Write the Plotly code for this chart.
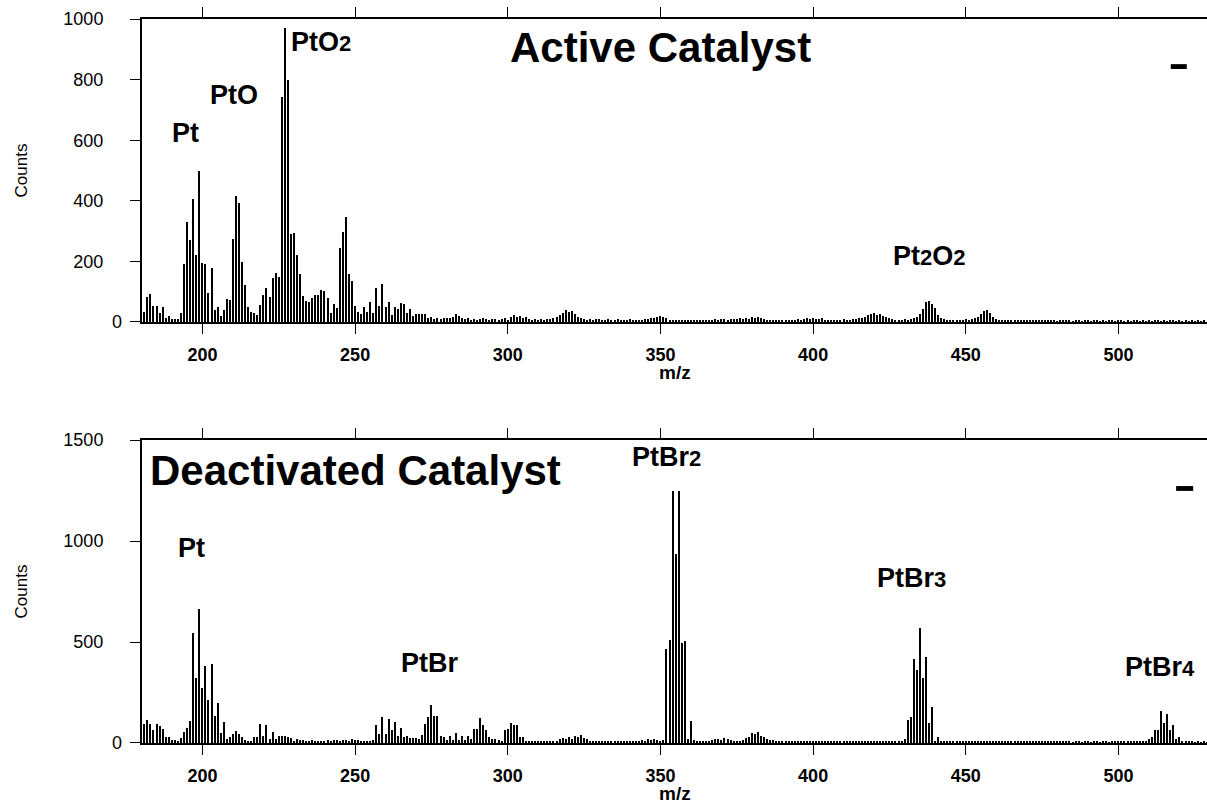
import plotly.graph_objects as go

# ---------------- Active catalyst spectrum (counts per integer m/z) ----------------
active_start_a = 180
active_counts_a = [
    12, 33, 83, 91, 52, 52, 31, 48, 14, 20,          # 180-189
    9, 9, 9, 29, 191, 329, 271, 405, 221, 498,       # 190-199
    196, 190, 97, 177, 40, 51, 20, 40, 75, 73,       # 200-209
    273, 416, 392, 199, 122, 51, 34, 29, 23, 56,     # 210-219
    89, 111, 84, 144, 161, 150, 744, 969, 799, 290,  # 220-229
    295, 220, 157, 87, 69, 66, 80, 88, 88, 106,      # 230-239
    103, 79, 30, 58, 47, 243, 296, 348, 157, 135,    # 240-249
    52, 33, 25, 50, 33, 67, 31, 113, 53, 124,        # 250-259
    51, 66, 23, 50, 44, 64, 61, 30, 42, 20,          # 260-269
    25, 27, 25, 25, 12, 17, 9, 12, 9, 14,            # 270-279
    12, 12, 18, 27, 20,                              # 280-284
]
active_start_b = 285
active_counts_b = [
    14, 10, 12, 8, 11, 7, 10, 12, 9, 8,              # 285-294
    11, 9, 7, 10, 12, 8, 18, 22, 15, 20,             # 295-304
    12, 16, 9, 8, 10, 7, 9, 8, 11, 10,               # 305-314
    12, 15, 22, 30, 38, 33, 36, 25, 18, 12,          # 315-324
    9, 8, 10, 7, 9, 11, 8, 6, 9, 7,                  # 325-334
    8, 10, 7, 6, 8, 9, 7, 6, 8, 7,                   # 335-344
    9, 10, 12, 14, 18, 20, 16, 12, 8, 6,             # 345-354
    7, 5, 6, 8, 6, 5, 7, 6, 5, 7,                    # 355-364
    6, 8, 7, 9, 8, 10, 9, 8, 11, 10,                 # 365-374
    9, 12, 10, 13, 11, 15, 14, 16, 12, 10,           # 375-384
    8, 7, 6, 8, 6, 5, 7, 6, 8, 7,                    # 385-394
    9, 8, 10, 12, 11, 13, 10, 9, 12, 8,              # 395-404
    7, 6, 8, 7, 6, 9, 8, 7, 9, 10,                   # 405-414
    12, 14, 18, 22, 26, 30, 24, 28, 20, 18,          # 415-424
    14, 10, 8, 6, 7, 9, 8, 10, 12, 15,               # 425-434
    25, 42, 65, 68, 60, 45, 22, 14, 10, 8,           # 435-444
    7, 6, 8, 7, 6, 9, 8, 10, 12, 18,                 # 445-454
    26, 35, 40, 30, 18, 10, 7, 6, 5, 6,              # 455-464
    5, 4, 6, 5, 4, 5, 6, 4, 5, 4,                    # 465-474
    5, 6, 4, 5, 4, 3, 5, 4, 6, 4,                    # 475-484
    3, 5, 4, 3, 5, 4, 3, 4, 5, 3,                    # 485-494
    4, 3, 5, 4, 3, 4, 5, 3, 4, 3,                    # 495-504
    4, 5, 3, 4, 3, 4, 3, 5, 4, 3,                    # 505-514
    4, 3, 4, 5, 3, 4, 3, 4, 3, 4,                    # 515-524
    3, 4, 3, 4,                                      # 525-528
]

# ---------------- Deactivated catalyst spectrum ----------------
deact_start_a = 180
deact_counts_a = [
    60, 92, 115, 95, 62, 92, 82, 67, 32, 32,         # 180-189
    17, 17, 12, 26, 54, 74, 108, 545, 320, 663,      # 190-199
    270, 381, 214, 393, 134, 199, 51, 106, 19, 29,   # 200-209
    45, 57, 45, 32, 17, 12, 12, 32, 29, 95,          # 210-219
    37, 88, 21, 54, 21, 37, 37, 37, 29, 26,          # 220-229
    12, 21, 14, 16, 12, 10, 13, 11, 9, 12,           # 230-239
    10, 14, 12, 15, 13, 11, 16, 14, 12, 18,          # 240-249
    15, 13, 11, 9, 12, 10, 15, 87, 45, 131,          # 250-259
    45, 118, 62, 103, 37, 75, 29, 37, 26, 24,        # 260-269
    24, 21, 40, 92, 128, 189, 136, 134, 37, 29,      # 270-279
    15, 37, 15, 49, 15, 37, 15, 37, 20, 70,          # 280-289
    70, 123, 87, 62, 29, 21, 21, 17, 12, 62,         # 290-299
    70, 100, 87, 87, 29, 32, 12, 10, 9, 11,          # 300-309
    8, 10, 9, 12, 10, 8, 11, 18, 25, 20,             # 310-319
    30, 22, 35, 28, 40, 24, 18, 12, 9, 8,            # 320-329
    10, 7, 9, 8, 6, 8, 7, 9, 6, 8,                   # 330-339
    7, 9, 8, 10, 14, 12, 18, 15, 20, 16,             # 340-349
    12, 14,                                          # 350-351
]
deact_start_b = 352
deact_counts_b = [
    467, 508, 1247, 938, 1247, 495, 503, 20, 107,    # 352-360  PtBr2
    14, 8, 7, 9, 8, 10, 14, 18, 22, 16,              # 361-370
    24, 20, 15, 10, 8, 12, 15, 25, 30, 50,           # 371-380
    45, 55, 35, 30, 20, 15, 15, 10, 8, 7,            # 381-390
    6, 8, 7, 6, 9, 7, 6, 8, 7, 5,                    # 391-400
    6, 7, 5, 6, 8, 7, 6, 5, 7, 6,                    # 401-410
    5, 6, 7, 5, 6, 5, 7, 6, 5, 6,                    # 411-420
    7, 5, 6, 8, 6, 5, 7, 9, 12, 20,                  # 421-430
    115, 128, 414, 360, 569, 320, 426, 100, 178, 12, # 431-440  PtBr3
    29, 8, 10, 7, 6, 8, 9, 7, 6, 5,                  # 441-450
    7, 6, 5, 6, 8, 6, 7, 10, 9, 7,                   # 451-460
    6, 5, 7, 6, 5, 6, 5, 7, 6, 5,                    # 461-470
    6, 5, 6, 7, 5, 6, 7, 8, 9, 8,                    # 471-480
    6, 5, 6, 5, 4, 6, 5, 4, 6, 5,                    # 481-490
    4, 6, 5, 4, 5, 6, 4, 5, 7, 6,                    # 491-500
    5, 6, 7, 5, 6, 5, 8, 7, 9, 21,                   # 501-510
    29, 65, 65, 156, 100, 145, 65, 90, 21, 29,       # 511-520  PtBr4
    8, 6, 5, 6, 4, 5, 4, 5, 4,                       # 521-529
]

# Axis ticks
x_ticks = [200, 250, 300, 350, 400, 450, 500]
active_y_ticks = [0, 200, 400, 600, 800, 1000]
deact_y_ticks = [0, 500, 1000, 1500]


def expand(start, counts):
    return [start + i for i in range(len(counts))], counts


a_mz1, a_c1 = expand(active_start_a, active_counts_a)
a_mz2, a_c2 = expand(active_start_b, active_counts_b)
d_mz1, d_c1 = expand(deact_start_a, deact_counts_a)
d_mz2, d_c2 = expand(deact_start_b, deact_counts_b)

active_mz = a_mz1 + a_mz2
active_counts = a_c1 + a_c2
deact_mz = d_mz1 + d_mz2
deact_counts = d_c1 + d_c2

FONT = "Arial, Liberation Sans, Helvetica, sans-serif"
X_RANGE = [180.2, 529.0]
STICK = 0.4

fig = go.Figure()
fig.add_trace(go.Bar(x=active_mz, y=active_counts, width=STICK,
                     marker=dict(color="black", line=dict(width=0)),
                     xaxis="x", yaxis="y", showlegend=False))
fig.add_trace(go.Bar(x=deact_mz, y=deact_counts, width=STICK,
                     marker=dict(color="black", line=dict(width=0)),
                     xaxis="x2", yaxis="y2", showlegend=False))

top_dom = [0.5815, 1.0]
bot_dom = [0.0, 0.4185]

xcommon = dict(range=X_RANGE, showline=True, linecolor="black", linewidth=2,
               mirror="ticks", ticks="outside", ticklen=10, tickwidth=1,
               tickcolor="black", tickvals=x_ticks, showgrid=False, zeroline=False,
               tickfont=dict(family=FONT, size=18, color="black", weight="bold"),
               ticklabelstandoff=5)
ycommon = dict(showline=True, linecolor="black", linewidth=2, mirror=False,
               ticks="outside", ticklen=10, tickwidth=1, tickcolor="black",
               showgrid=False, zeroline=False,
               tickfont=dict(family=FONT, size=18, color="black"),
               ticklabelstandoff=23)


def y_ticktext(vals):
    # the zero label is placed separately, closer to the axis
    return [("" if v == 0 else str(v)) for v in vals]


fig.update_layout(
    width=1207, height=807,
    margin=dict(l=142, r=0, t=19, b=64),
    paper_bgcolor="white", plot_bgcolor="white",
    bargap=0,
    xaxis=dict(domain=[0, 1], anchor="y", **xcommon),
    yaxis=dict(domain=top_dom, anchor="x", range=[0, 1000],
               tickvals=active_y_ticks, ticktext=y_ticktext(active_y_ticks), **ycommon),
    xaxis2=dict(domain=[0, 1], anchor="y2", **xcommon),
    yaxis2=dict(domain=bot_dom, anchor="x2", range=[0, 1500],
                tickvals=deact_y_ticks, ticktext=y_ticktext(deact_y_ticks), **ycommon),
)

annotations = []


def label(text, x, y, xr, yr, size=27, xanchor="center"):
    annotations.append(dict(text=text, x=x, y=y, xref=xr, yref=yr,
                            showarrow=False, xanchor=xanchor, yanchor="middle",
                            font=dict(family=FONT, size=size, color="black", weight="bold")))


def idx(d):
    # index digit in a formula, drawn slightly smaller than the element symbols
    return f'<span style="font-size:22px">{d}</span>'


# Panel titles
label("Active Catalyst", 350, 905, "x", "y", size=42)
label("Deactivated Catalyst", 182, 1351, "x2", "y2", size=42, xanchor="left")

# Peak assignments, active catalyst
label("Pt", 194.6, 624, "x", "y")
label("PtO", 210.3, 749, "x", "y")
label("PtO" + idx(2), 228.3, 924, "x", "y", xanchor="left")
label("Pt" + idx(2) + "O" + idx(2), 438, 218, "x", "y")

# Peak assignments, deactivated catalyst
label("Pt", 196.5, 965, "x2", "y2")
label("PtBr", 274.2, 394, "x2", "y2")
label("PtBr" + idx(2), 352, 1415, "x2", "y2")
label("PtBr" + idx(3), 432.3, 815, "x2", "y2")
label("PtBr" + idx(4), 513.5, 375, "x2", "y2")

# Axis titles and zero labels
for xr, yr in (("x", "y"), ("x2", "y2")):
    annotations.append(dict(text="m/z", x=0.5, y=-0.168, xref=f"{xr} domain",
                            yref=f"{yr} domain", showarrow=False,
                            xanchor="center", yanchor="middle",
                            font=dict(family=FONT, size=19, color="black", weight="bold")))
    annotations.append(dict(text="Counts", x=-0.1127, y=0.5, xref=f"{xr} domain",
                            yref=f"{yr} domain", showarrow=False, textangle=-90,
                            xanchor="center", yanchor="middle",
                            font=dict(family="Liberation Sans Narrow, Arial Narrow, " + FONT,
                                      size=17, color="black")))
    annotations.append(dict(text="0", x=-0.0169, y=0, xref=f"{xr} domain", yref=yr,
                            showarrow=False, xanchor="right", yanchor="middle",
                            xshift=0, font=dict(family=FONT, size=18, color="black")))

fig.update_layout(annotations=annotations)

# Short legend dashes at the upper right of each panel
fig.add_shape(type="rect", xref="x domain", yref="y domain",
              x0=0.966, x1=0.981, y0=0.835, y1=0.851,
              fillcolor="black", line=dict(width=0))
fig.add_shape(type="rect", xref="x2 domain", yref="y2 domain",
              x0=0.971, x1=0.987, y0=0.832, y1=0.848,
              fillcolor="black", line=dict(width=0))

fig.write_html("out.html")
